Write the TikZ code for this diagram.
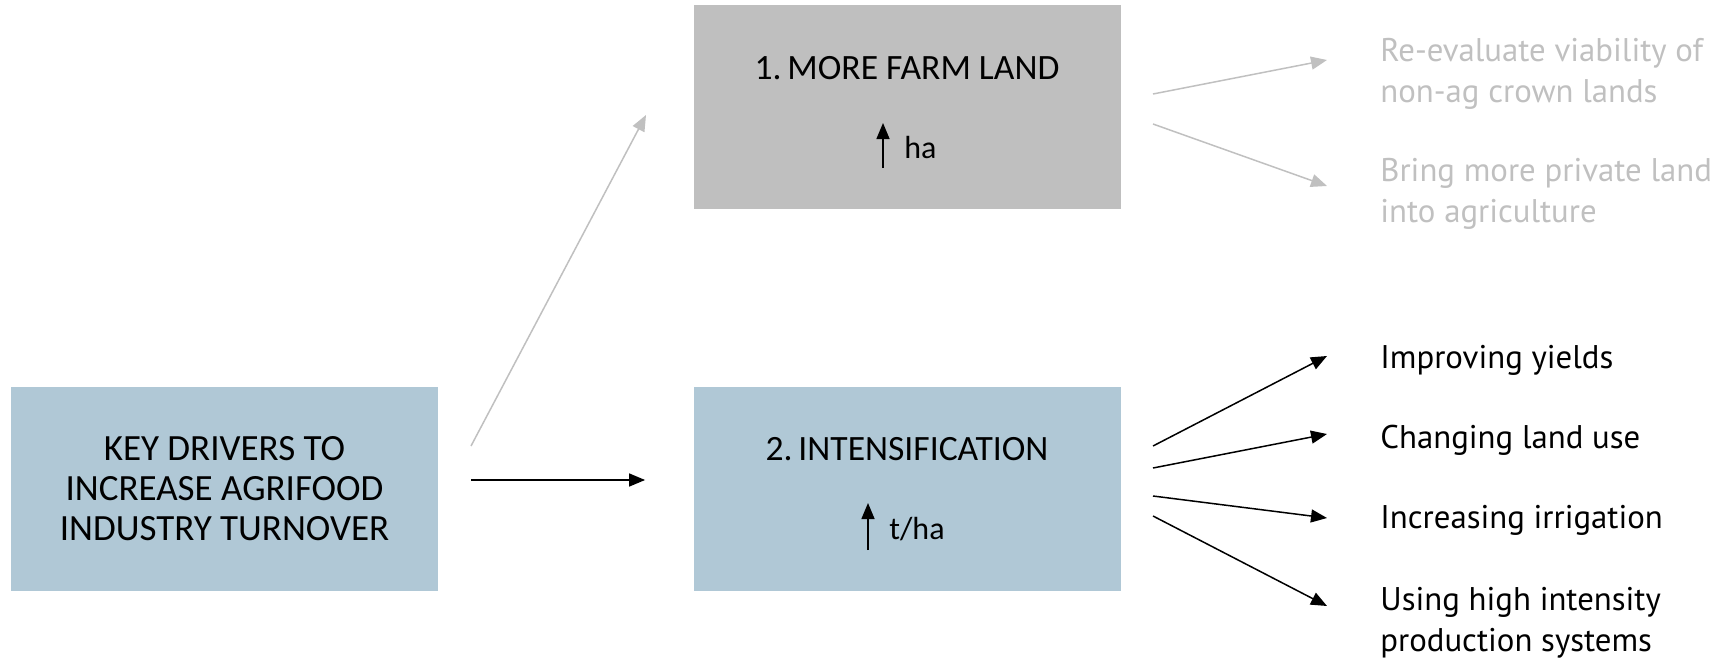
\documentclass[tikz,border=0pt]{standalone}
\usepackage{fontspec}
\setmainfont{Carlito}
\newfontfamily\itemfont{PT Sans}
\usetikzlibrary{calc}
\usetikzlibrary{arrows.meta}
\definecolor{boxblue}{RGB}{176,200,214}
\definecolor{boxgrey}{RGB}{191,191,191}
\definecolor{fadegrey}{RGB}{192,192,192}

\begin{document}
\begin{tikzpicture}[x=0.5pt,y=-0.5pt,
    box/.style={minimum width=213.5pt,minimum height=102pt,inner sep=0pt,align=center,font=\fontsize{18.5}{20}\selectfont},
    boxtext/.style={inner sep=0pt,font=\fontsize{17.8}{20}\selectfont},
    unittext/.style={inner sep=0pt,font=\fontsize{16}{20}\selectfont},
    item/.style={anchor=west,align=left,inner sep=0pt,font=\itemfont\fontsize{16.4}{20.5}\selectfont},
    link/.style={line width=0.75pt,-{Triangle[length=8pt,width=6.5pt]}},
    uparrow/.style={line width=0.75pt,-{Triangle[length=8pt,width=6.5pt]}}]%
        \useasboundingbox (0,0) rectangle (1717,658);%
        \node[box,fill=boxblue] (key) at (224.5,489) {KEY DRIVERS TO\\INCREASE AGRIFOOD\\INDUSTRY TURNOVER};%
        \node[box,fill=boxgrey] (farm) at (907,107) {};%
        \node[box,fill=boxblue] (intens) at (907,489) {};%
        \node[boxtext] (farmtitle) at (907,68) {1.\,MORE FARM LAND};%
        \node[unittext,anchor=west] (ha) at (904,148) {ha};%
        \node[boxtext] (intenstitle) at (907,449) {2.\,INTENSIFICATION};%
        \node[unittext,anchor=west] (tha) at (889,529) {t/ha};%
        \coordinate (ha0) at (883,168);%
        \coordinate (ha1) at (883,123);%
        \coordinate (tha0) at (868,550);%
        \coordinate (tha1) at (868,503);%
        \draw[uparrow] (ha0) -- (ha1);%
        \draw[uparrow] (tha0) -- (tha1);%
        \node[item,text=fadegrey] (reeval) at (1380,74) {Re-evaluate viability of\\non-ag crown lands};%
        \node[item,text=fadegrey] (bring) at (1380,194) {Bring more private land\\into agriculture};%
        \node[item] (yields) at (1380,360) {Improving yields};%
        \node[item] (landuse) at (1380,440) {Changing land use};%
        \node[item] (irrig) at (1380,520) {Increasing irrigation};%
        \node[item] (highint) at (1380,623) {Using high intensity\\production systems};%
        \coordinate (k0) at (471,446);%
        \coordinate (k1) at (646,115);%
        \coordinate (f0) at (1153,94);%
        \coordinate (f1) at (1327,60);%
        \coordinate (f2) at (1153,124);%
        \coordinate (f3) at (1327,186);%
        \coordinate (i0) at (1153,446);%
        \coordinate (i1) at (1327,356);%
        \coordinate (i2) at (1153,468);%
        \coordinate (i3) at (1327,434);%
        \coordinate (i4) at (1153,496);%
        \coordinate (i5) at (1327,518);%
        \coordinate (i6) at (1153,516);%
        \coordinate (i7) at (1327,606);%
        \draw[link,shorten <=16.5pt,shorten >=24pt] ([yshift=4.5pt]key.east) -- ([yshift=4.5pt]intens.west);%
        \draw[link,fadegrey] (k0) -- (k1);%
        \draw[link,fadegrey] (f0) -- (f1);%
        \draw[link,fadegrey] (f2) -- (f3);%
        \draw[link] (i0) -- (i1);%
        \draw[link] (i2) -- (i3);%
        \draw[link] (i4) -- (i5);%
        \draw[link] (i6) -- (i7);%
    \end{tikzpicture}
\end{document}
